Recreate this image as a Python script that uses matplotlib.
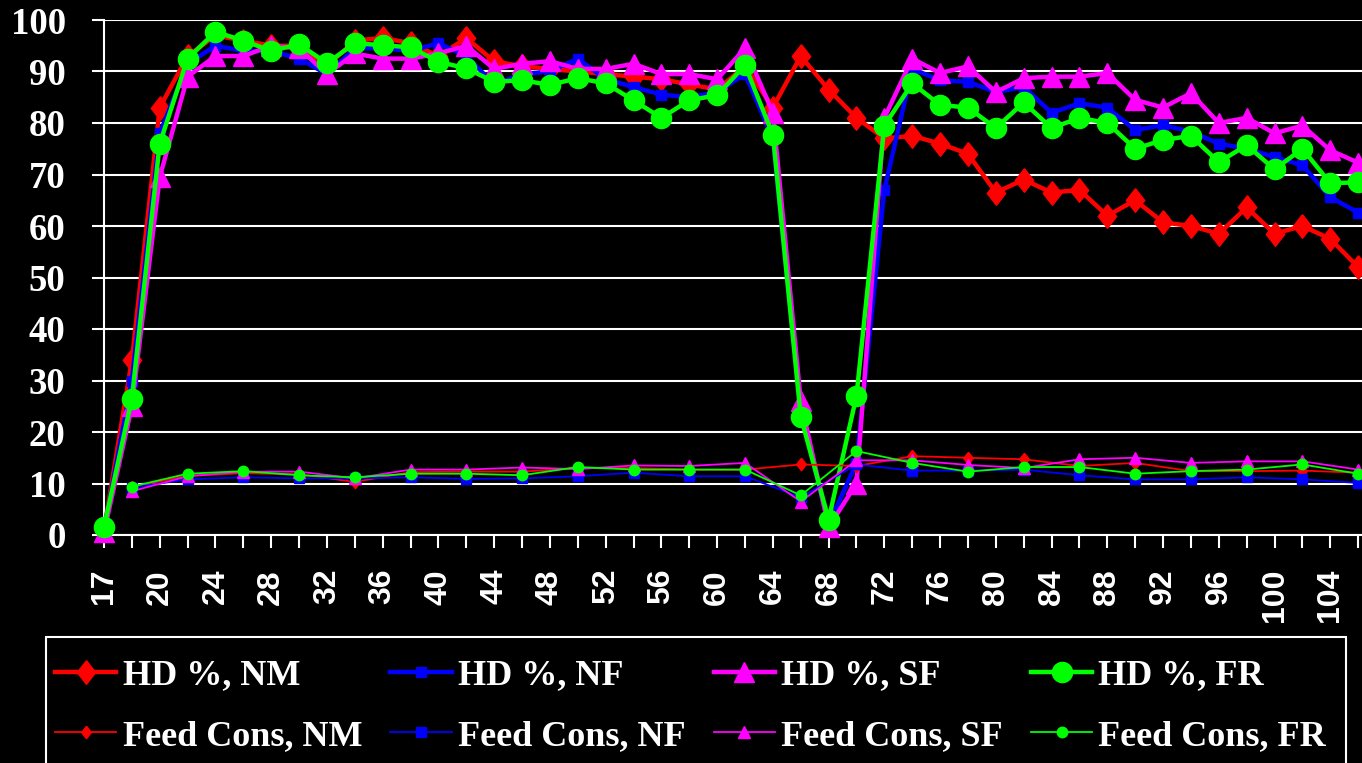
import matplotlib
matplotlib.use("Agg")
import matplotlib.pyplot as plt
from matplotlib.patches import Rectangle
import numpy as np

# ---------------- data ----------------
weeks = [17, 18] + list(range(20, 107, 2))

hd_nm = [1.0, 34, 83, 93, 97, 96, 95, 95, 91, 96, 96.5, 95.5, 93, 96.5, 92,
         91, 90.5, 90, 89.5, 89, 88.5, 87.5, 86.5, 91, 83, 93, 86.5, 81, 77,
         77.5, 76, 74, 66.5, 69, 66.5, 67, 62, 65, 60.7, 60, 58.5, 63.6, 58.5,
         60, 57.5, 52]
hd_nf = [1.0, 30, 78, 91.5, 95, 94, 94, 92.5, 89.5, 94.5, 94.5, 94, 95.5, 93,
         87.5, 89.5, 90, 92.5, 88.5, 87, 85.5, 85, 86, 89.5, 77, 24, 2, 14, 67,
         90.5, 88.3, 88, 86, 87, 82, 83.8, 83, 78.6, 79.6, 78.3, 76, 75, 73.4,
         71.8, 65.6, 62.6]
hd_sf = [0.5, 25, 69.5, 89, 93, 93, 95, 94.5, 89.5, 93.5, 92.5, 92.5, 93.5, 95,
         90.5, 91.5, 92, 90.5, 90.5, 91.5, 89.5, 89.5, 88.5, 94.5, 82, 26, 1.5,
         10, 81, 92.5, 89.7, 91, 86, 88.7, 89, 89, 89.7, 84.5, 83, 85.8, 80, 81,
         78, 79.5, 74.7, 72.3]
hd_fr = [1.5, 26.5, 76, 92.5, 97.7, 96, 94, 95.3, 91.6, 95.5, 95.1, 94.7, 91.9,
         90.6, 88, 88.3, 87.4, 88.7, 87.7, 84.4, 81, 84.4, 85.4, 91.2, 77.7, 23,
         3, 27, 79.5, 87.7, 83.5, 83, 79, 84, 79, 81, 80, 75, 76.7, 77.5, 72.4,
         75.7, 71, 75, 68.3, 68.5]

fc_weeks = list(range(18, 107, 4))
fc_nm = [9.3, 11.5, 12.0, 11.8, 10.3, 12.2, 12.3, 12.3, 13.0, 13.0, 12.7, 12.7,
         13.7, 13.4, 15.3, 15.0, 14.7, 13.4, 14.0, 12.4, 12.4, 12.5, 12.1]
fc_nf = [9.2, 10.8, 11.2, 11.0, 11.0, 11.2, 10.9, 11.0, 11.4, 12.1, 11.4, 11.4,
         7.3, 13.7, 12.5, 12.5, 12.7, 11.6, 10.8, 10.8, 11.2, 10.8, 10.1]
fc_sf = [8.5, 11.4, 12.3, 12.3, 11.0, 12.7, 12.7, 13.1, 12.8, 13.5, 13.4, 14.0,
         6.5, 14.5, 14.5, 13.6, 13.0, 14.7, 15.0, 14.0, 14.3, 14.3, 12.7]
fc_fr = [9.4, 11.9, 12.4, 11.6, 11.2, 11.9, 11.9, 11.6, 13.2, 12.7, 12.7, 12.7,
         7.7, 16.3, 14.0, 12.3, 13.2, 13.2, 11.9, 12.4, 12.7, 13.7, 11.9]

labels_hd = ["HD %, NM", "HD %, NF", "HD %, SF", "HD %, FR"]
labels_fc = ["Feed Cons, NM", "Feed Cons, NF", "Feed Cons, SF", "Feed Cons, FR"]

# ---------------- figure ----------------
W, H = 1362, 763
fig = plt.figure(figsize=(W / 100, H / 100), dpi=100, facecolor="black")
ax = fig.add_axes([104 / W, 1 - 535 / H, (W - 104) / W, (535 - 20) / H])
ax.set_facecolor("black")

x = np.arange(len(weeks))
xf = np.array([weeks.index(w) for w in fc_weeks])

diamond = [(0, 1), (0.78, 0), (0, -1), (-0.78, 0), (0, 1)]
red, blue, mag, grn = "#FF0000", "#0000FF", "#FF00FF", "#00FF00"

hd_styles = [
    (hd_nm, red, dict(marker=diamond, ms=17)),
    (hd_nf, blue, dict(marker="s", ms=6.5)),
    (hd_sf, mag, dict(marker="^", ms=15)),
    (hd_fr, grn, dict(marker="o", ms=14.5)),
]
fc_styles = [
    (fc_nm, red, dict(marker=diamond, ms=9)),
    (fc_nf, blue, dict(marker="s", ms=7)),
    (fc_sf, mag, dict(marker="^", ms=8.5)),
    (fc_fr, grn, dict(marker="o", ms=7.5)),
]

hd_handles = []
for (vals, c, mk), lab in zip(hd_styles, labels_hd):
    h, = ax.plot(x, vals, color=c, lw=3.2, mfc=c, mec=c, clip_on=False,
                 label=lab, zorder=3, **mk)
    hd_handles.append(h)
fc_handles = []
for (vals, c, mk), lab in zip(fc_styles, labels_fc):
    h, = ax.plot(xf, vals, color=c, lw=1.3, mfc=c, mec=c, clip_on=False,
                 label=lab, zorder=4, **mk)
    fc_handles.append(h)

ax.set_xlim(0, (W - 104) / 27.87)
ax.set_ylim(0, 100)

ax.set_yticks(range(0, 101, 10))
ax.set_yticklabels([str(v) for v in range(0, 101, 10)],
                   fontfamily="Liberation Serif", fontweight="bold",
                   fontsize=26.5, color="white")
ax.set_xticks(x)
ax.set_xticklabels([str(w) if i % 2 == 0 else "" for i, w in enumerate(weeks)],
                   rotation=90, fontfamily="Liberation Sans", fontweight="bold",
                   fontsize=23, color="white")
ax.tick_params(axis="y", length=8.6, width=1.5, color="white", pad=19)
ax.tick_params(axis="x", length=9.4, width=1.5, color="white", pad=15)

ax.yaxis.grid(True, color="white", lw=1.5)
ax.set_axisbelow(True)
for s in ["top", "right"]:
    ax.spines[s].set_visible(False)
for s in ["left", "bottom"]:
    ax.spines[s].set_color("white")
    ax.spines[s].set_linewidth(1.5)

# legend frame (open at the bottom edge, like the reference)
fig.patches.append(Rectangle((46 / W, -0.02), 1300 / W, (763 - 637) / H + 0.02,
                             transform=fig.transFigure, facecolor="black",
                             edgecolor="white", lw=1.5, zorder=0))

handles = []
for a, b in zip(hd_handles, fc_handles):
    handles += [a, b]
leg = fig.legend(handles=handles, labels=[h.get_label() for h in handles],
                 ncol=4, loc="upper left",
                 bbox_to_anchor=(55 / W, 1 - 659 / H),
                 prop=dict(family="Liberation Serif", weight="bold", size=26),
                 labelcolor="white", frameon=False, handlelength=1.7,
                 handletextpad=0.17, columnspacing=0.78, borderpad=0,
                 labelspacing=0.75, borderaxespad=0)

fig.savefig("out.png", dpi=100, facecolor="black")
